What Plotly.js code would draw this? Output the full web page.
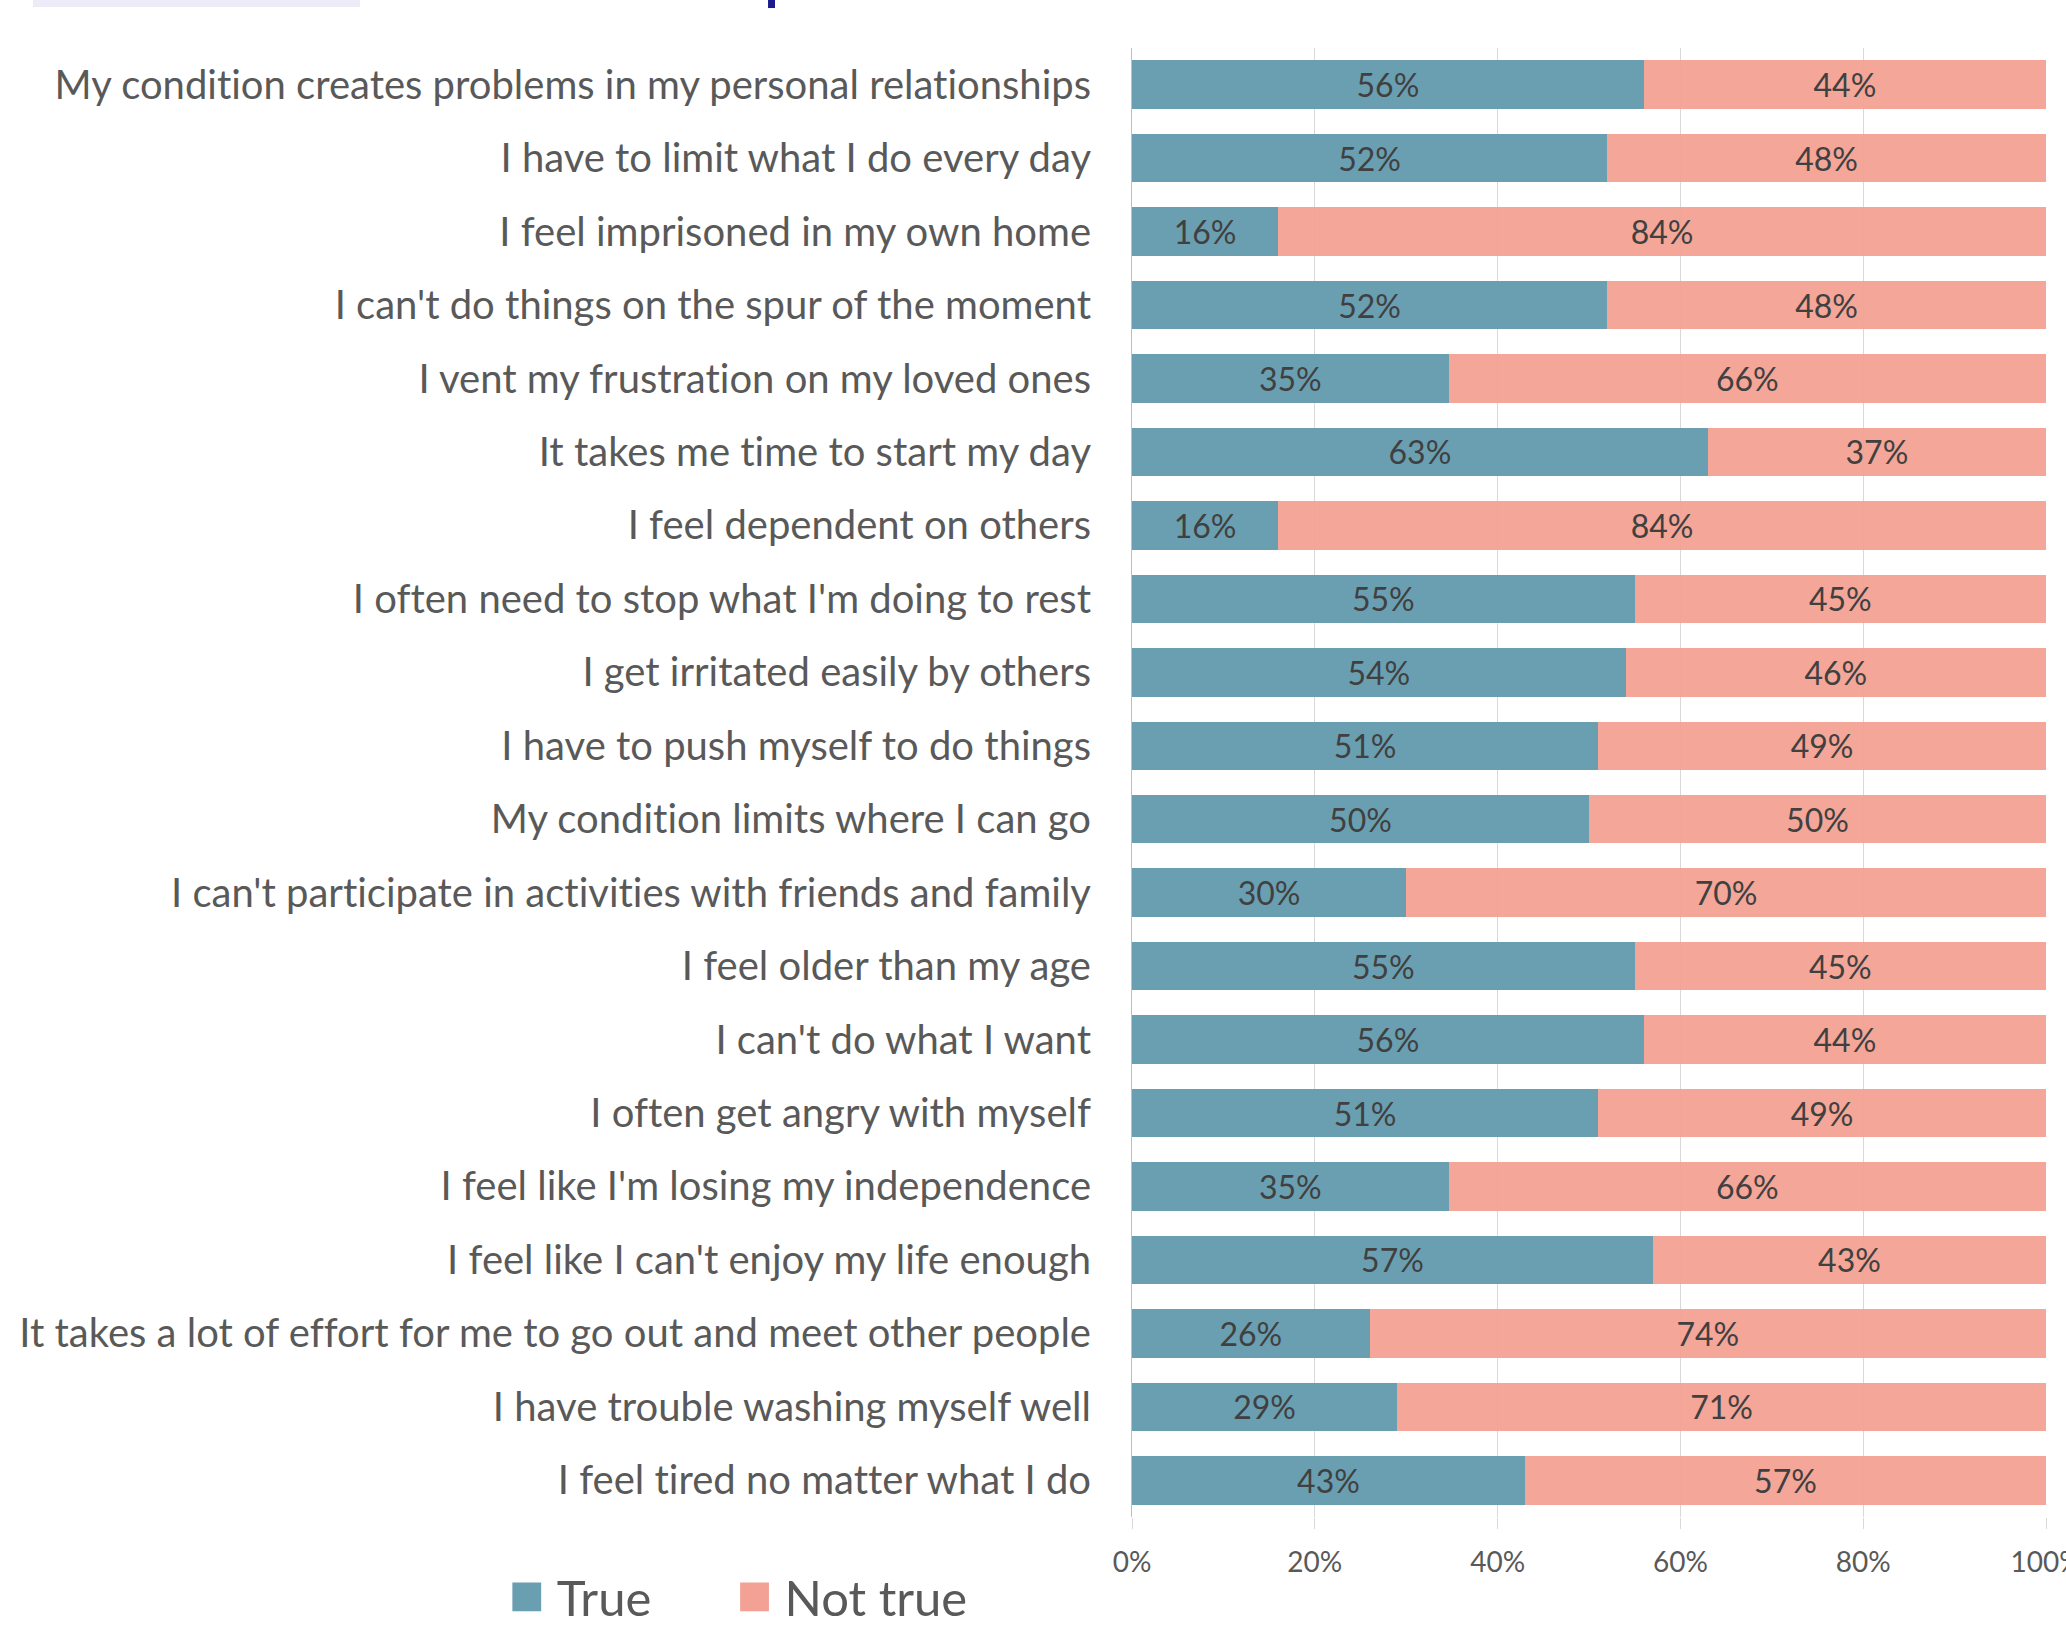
<!DOCTYPE html>
<html>
<head>
<meta charset="utf-8">
<script src="https://cdn.plot.ly/plotly-3.0.1.min.js"></script>
<style>
html,body{margin:0;padding:0;background:#fff;}
#chart{width:2066px;height:1630px;}
#chart text{font-feature-settings:"liga" 0, "clig" 0;font-variant-ligatures:none;}
</style>
</head>
<body>
<div id="chart"></div>
<script>
const categories = [
  "My condition creates problems in my personal relationships",
  "I have to limit what I do every day",
  "I feel imprisoned in my own home",
  "I can't do things on the spur of the moment",
  "I vent my frustration on my loved ones",
  "It takes me time to start my day",
  "I feel dependent on others",
  "I often need to stop what I'm doing to rest",
  "I get irritated easily by others",
  "I have to push myself to do things",
  "My condition limits where I can go",
  "I can't participate in activities with friends and family",
  "I feel older than my age",
  "I can't do what I want",
  "I often get angry with myself",
  "I feel like I'm losing my independence",
  "I feel like I can't enjoy my life enough",
  "It takes a lot of effort for me to go out and meet other people",
  "I have trouble washing myself well",
  "I feel tired no matter what I do"
];
const trueVals =    [56, 52, 16, 52, 35, 63, 16, 55, 54, 51, 50, 30, 55, 56, 51, 35, 57, 26, 29, 43];
const notTrueVals = [44, 48, 84, 48, 66, 37, 84, 45, 46, 49, 50, 70, 45, 44, 49, 66, 43, 74, 71, 57];
const seriesNames = ["True", "Not true"];
const tickVals = [0, 20, 40, 60, 80, 100];
const tickText = ["0%", "20%", "40%", "60%", "80%", "100%"];

const FONT = "Lato, 'Open Sans', sans-serif";
const colors = ["#6A9FB2", "#F3A194"];
const opac = [1, 0.95];
const barText = {size: 32, color: "#404040", family: FONT};

function barTrace(vals, name, color, op, legendId) {
  return {
    type: "bar", orientation: "h",
    y: categories, x: vals, name: name, legend: legendId,
    marker: {color: color, opacity: op, line: {width: 0}},
    text: vals.map(v => v + "%"),
    textposition: "inside", insidetextanchor: "middle",
    insidetextfont: barText, textfont: barText,
    constraintext: "none",
    hoverinfo: "skip", showlegend: true
  };
}

const data = [
  barTrace(trueVals, seriesNames[0], colors[0], opac[0], "legend"),
  barTrace(notTrueVals, seriesNames[1], colors[1], opac[1], "legend2")
];

const legendBase = {
  orientation: "h", yanchor: "middle", xanchor: "left", y: -0.0545,
  font: {size: 49, color: "#595959", family: FONT},
  itemwidth: 50, bgcolor: "rgba(0,0,0,0)"
};

const layout = {
  width: 2066, height: 1630,
  paper_bgcolor: "#ffffff", plot_bgcolor: "#ffffff",
  margin: {l: 1132, r: 20, t: 48, b: 113, pad: 0, autoexpand: false},
  barmode: "stack", barnorm: "percent", bargap: 0.34,
  font: {family: FONT, color: "#595959"},
  xaxis: {
    range: [0, 100], tickvals: tickVals, ticktext: tickText,
    tickfont: {size: 28, color: "#595959", family: FONT},
    showgrid: true, gridcolor: "#d9d9d9", gridwidth: 1,
    zeroline: false, showline: false,
    ticks: "outside", ticklen: 11, tickcolor: "#d9d9d9", tickwidth: 1,
    ticklabelstandoff: 9, ticklabeloverflow: "allow", fixedrange: true
  },
  yaxis: {
    autorange: "reversed", type: "category",
    tickfont: {size: 40, color: "#595959", family: FONT},
    showline: true, linecolor: "#bfbfbf", linewidth: 1,
    showgrid: false, zeroline: false, ticks: "",
    ticklabelstandoff: 32, fixedrange: true
  },
  legend: Object.assign({}, legendBase, {x: -0.695}),
  legend2: Object.assign({}, legendBase, {x: -0.4458}),
  shapes: [
    {type: "rect", xref: "paper", yref: "paper", x0: -1.2024, x1: -0.8446, y0: 1.0279, y1: 1.04,
     fillcolor: "#ECEBF7", line: {width: 0}, layer: "above"},
    {type: "rect", xref: "paper", yref: "paper", x0: -0.3982, x1: -0.3906, y0: 1.0272, y1: 1.04,
     fillcolor: "#1A1A8C", line: {width: 0}, layer: "above"}
  ],
  showlegend: true
};

Plotly.newPlot("chart", data, layout, {displayModeBar: false, staticPlot: true}).then(function (gd) {
  gd.querySelectorAll(".legendpoints path").forEach(function (p) {
    const t = p.getAttribute("transform") || "";
    p.setAttribute("transform", t + " scale(2.4)");
    p.style.strokeWidth = "0";
  });
});
</script>
</body>
</html>
